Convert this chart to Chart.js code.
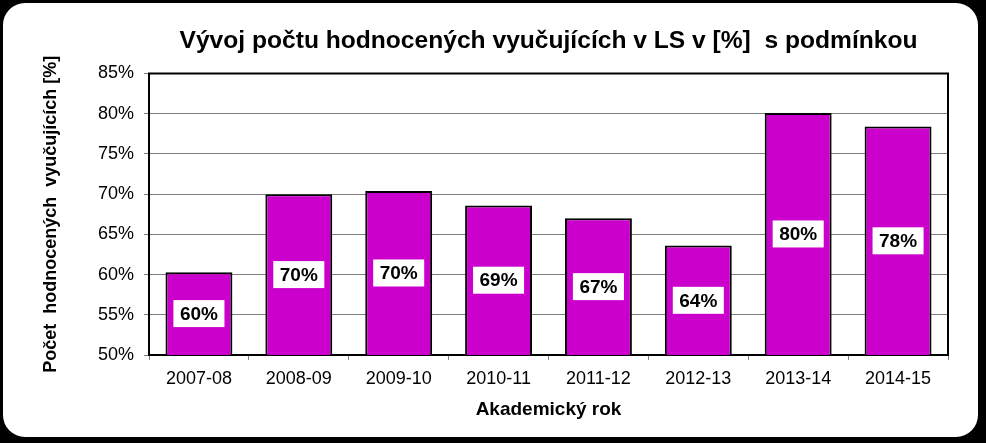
<!DOCTYPE html>
<html>
<head>
<meta charset="utf-8">
<script src="https://cdn.jsdelivr.net/npm/chart.js@4"></script>
<style>
  html, body { margin: 0; padding: 0; background: #000; }
  #wrap { width: 986px; height: 443px; }
</style>
</head>
<body>
<div id="wrap"><canvas id="c" width="986" height="443"></canvas></div>
<script>
const categories = ['2007-08', '2008-09', '2009-10', '2010-11', '2011-12', '2012-13', '2013-14', '2014-15'];
const values = [60.3, 70.0, 70.4, 68.6, 67.0, 63.6, 80.1, 78.4];
const chartTitle = 'Vývoj počtu hodnocených vyučujících v LS v [%]  s podmínkou';
const yTitle = 'Počet  hodnocených  vyučujících [%]';
const xTitle = 'Akademický rok';

const FONT = 'Arial, "Liberation Sans", sans-serif';

const bgPlugin = {
  id: 'bg',
  beforeDraw(chart) {
    const ctx = chart.ctx;
    ctx.save();
    ctx.fillStyle = '#000';
    ctx.fillRect(0, 0, chart.width, chart.height);
    ctx.fillStyle = '#fff';
    ctx.beginPath();
    ctx.roundRect(3, 3, 975, 434, 22);
    ctx.fill();
    ctx.restore();
  },
  afterDraw(chart) {
    const a = chart.chartArea;
    const ctx = chart.ctx;
    ctx.save();
    ctx.strokeStyle = '#000';
    ctx.lineWidth = 2;
    ctx.beginPath();
    ctx.moveTo(a.left, a.bottom);
    ctx.lineTo(a.left, a.top);
    ctx.lineTo(a.right, a.top);
    ctx.lineTo(a.right, a.bottom);
    ctx.stroke();
    ctx.restore();
  }
};

const labelPlugin = {
  id: 'barLabels',
  afterDatasetsDraw(chart) {
    const ctx = chart.ctx;
    const meta = chart.getDatasetMeta(0);
    const bottom = chart.chartArea.bottom;
    ctx.save();
    ctx.font = 'bold 19px ' + FONT;
    ctx.textAlign = 'center';
    ctx.textBaseline = 'middle';
    meta.data.forEach((bar, i) => {
      const txt = Math.round(values[i]) + '%';
      const cy = (bar.y + Math.min(bar.base, bottom)) / 2;
      const w = ctx.measureText(txt).width + 13;
      const h = 27;
      ctx.fillStyle = '#fff';
      ctx.fillRect(bar.x - w / 2, cy - h / 2, w, h);
      ctx.fillStyle = '#000';
      ctx.fillText(txt, bar.x, cy + 1);
    });
    ctx.restore();
  }
};

new Chart(document.getElementById('c'), {
  type: 'bar',
  data: {
    labels: categories,
    datasets: [{
      data: values,
      backgroundColor: '#cc00cc',
      borderColor: '#000',
      borderWidth: 2,
      borderSkipped: 'bottom',
      barPercentage: 0.67,
      categoryPercentage: 1.0
    }]
  },
  options: {
    responsive: false,
    animation: false,
    devicePixelRatio: 1,
    layout: { padding: { left: 0, right: 38, top: 0, bottom: 0 } },
    plugins: {
      legend: { display: false },
      tooltip: { enabled: false },
      title: {
        display: true,
        text: chartTitle,
        fullSize: false,
        color: '#000',
        font: { family: FONT, size: 24.6, weight: 'bold', lineHeight: 1.2 },
        padding: { top: 26, bottom: 18 }
      }
    },
    scales: {
      x: {
        afterFit(s) { s.height = 88; },
        offset: true,
        grid: {
          display: true,
          offset: true,
          drawOnChartArea: false,
          drawTicks: true,
          tickLength: 5,
          tickColor: '#808080',
          tickWidth: 1
        },
        border: { display: true, color: '#000', width: 2 },
        ticks: {
          color: '#000',
          font: { family: FONT, size: 18 },
          padding: 8,
          maxRotation: 0
        },
        title: {
          display: true,
          text: xTitle,
          color: '#000',
          font: { family: FONT, size: 19, weight: 'bold', lineHeight: 1.2 },
          padding: { top: 0, bottom: 22 }
        }
      },
      y: {
        afterFit(s) { s.width = 149; },
        min: 50,
        max: 85,
        grid: {
          color: '#808080',
          lineWidth: 1,
          drawTicks: true,
          tickLength: 5,
          tickColor: '#808080'
        },
        border: { display: true, color: '#000', width: 2 },
        ticks: {
          stepSize: 5,
          color: '#000',
          font: { family: FONT, size: 18 },
          padding: 10,
          callback: v => v + '%'
        },
        title: {
          display: true,
          text: yTitle,
          color: '#000',
          font: { family: FONT, size: 18, weight: 'bold', lineHeight: 1.2 },
          padding: { top: 40, bottom: 0 }
        }
      }
    }
  },
  plugins: [bgPlugin, labelPlugin]
});
</script>
</body>
</html>
